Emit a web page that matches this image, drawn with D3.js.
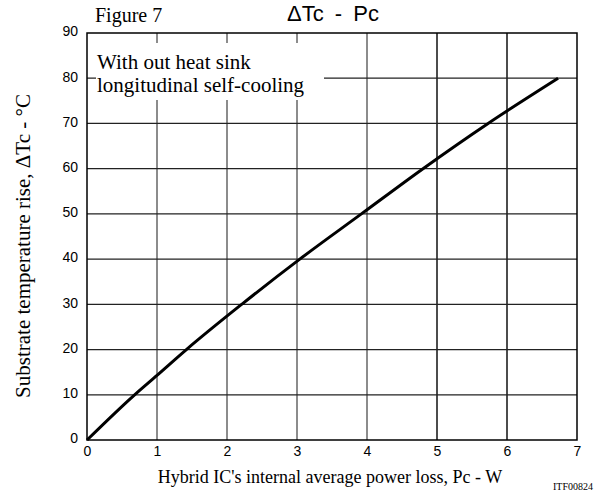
<!DOCTYPE html>
<html>
<head>
<meta charset="utf-8">
<title>dTc - Pc</title>
<script src="https://d3js.org/d3.v7.min.js"></script>
<style>
  body { margin: 0; background: #fff; }
  .tick text { font-family: "Liberation Sans", Arial, sans-serif; font-size: 14px; fill: #000; }
  .serif { font-family: "Liberation Serif", "Times New Roman", serif; }
</style>
</head>
<body>
<div id="chart"></div>
<script>
// curve: power loss (W) vs temperature rise (°C)
var power = [0, 0.68, 1, 1.42, 2.21, 3.04, 3.92, 4.80, 5.73, 6.73];
var tempRise = [0, 10, 14.3, 20, 30, 40, 50, 60, 70, 80];
var xTicks = [0, 1, 2, 3, 4, 5, 6, 7];
var yTicks = [0, 10, 20, 30, 40, 50, 60, 70, 80, 90];

var W = 605, H = 495;
var plotL = 87, plotR = 577, plotT = 33, plotB = 440;

var svg = d3.select('#chart').append('svg')
    .attr('width', W).attr('height', H);

var x = d3.scaleLinear().domain([0, 7]).range([plotL, plotR]);
var y = d3.scaleLinear().domain([0, 90]).range([plotB, plotT]);

// grid
svg.append('g').selectAll('line')
    .data(xTicks.slice(1, -1))
    .enter().append('line')
    .attr('x1', d => x(d)).attr('x2', d => x(d))
    .attr('y1', plotT).attr('y2', plotB)
    .style('stroke', d => d < 5 ? '#666' : '#111')
    .style('stroke-width', 1.5);

svg.append('g').selectAll('line')
    .data(yTicks.slice(1, -1))
    .enter().append('line')
    .attr('x1', plotL).attr('x2', plotR)
    .attr('y1', d => y(d)).attr('y2', d => y(d))
    .style('stroke', '#222')
    .style('stroke-width', 1.2);

// note box covering grid
svg.append('rect')
    .attr('x', 96).attr('y', 43)
    .attr('width', 228).attr('height', 57)
    .attr('fill', '#fff');

svg.append('text').attr('class', 'serif')
    .attr('x', 97).attr('y', 69)
    .style('font-size', '21px')
    .text('With out heat sink');
svg.append('text').attr('class', 'serif')
    .attr('x', 97).attr('y', 92)
    .style('font-size', '21px')
    .text('longitudinal self-cooling');

// frame
svg.append('rect')
    .attr('x', plotL).attr('y', plotT)
    .attr('width', plotR - plotL).attr('height', plotB - plotT)
    .attr('fill', 'none')
    .style('stroke', '#000')
    .style('stroke-width', 1.5);

// axes (labels only)
var xAxis = svg.append('g')
    .attr('transform', 'translate(0,' + plotB + ')')
    .call(d3.axisBottom(x).tickValues(xTicks).tickFormat(d3.format('d')).tickSize(0).tickPadding(6));
xAxis.select('.domain').remove();

var yAxis = svg.append('g')
    .attr('transform', 'translate(' + plotL + ',0)')
    .call(d3.axisLeft(y).tickValues(yTicks).tickFormat(d3.format('d')).tickSize(0).tickPadding(9));
yAxis.select('.domain').remove();
yAxis.selectAll('.tick text').attr('dy', '0.2em');

// curve
var pts = power.map((p, i) => [p, tempRise[i]]);
var line = d3.line()
    .x(d => x(d[0]))
    .y(d => y(d[1]))
    .curve(d3.curveMonotoneX);

svg.append('path')
    .datum(pts)
    .attr('d', line)
    .attr('fill', 'none')
    .style('stroke', '#000')
    .style('stroke-width', 3);

// titles
svg.append('text').attr('class', 'serif')
    .attr('x', 95).attr('y', 22)
    .style('font-size', '20px')
    .text('Figure 7');

svg.append('text')
    .attr('x', 333).attr('y', 21)
    .attr('text-anchor', 'middle')
    .style('font-family', '"Liberation Sans", Arial, sans-serif')
    .style('font-size', '22px')
    .style('word-spacing', '5px')
    .text('\u0394Tc - Pc');

svg.append('text').attr('class', 'serif')
    .attr('x', 330).attr('y', 483)
    .attr('text-anchor', 'middle')
    .style('font-size', '18px')
    .text("Hybrid IC's internal average power loss, Pc - W");

svg.append('text').attr('class', 'serif')
    .attr('transform', 'translate(30,246) rotate(-90)')
    .attr('text-anchor', 'middle')
    .style('font-size', '21px')
    .text('Substrate temperature rise, \u0394Tc - \u00B0C');

svg.append('text').attr('class', 'serif')
    .attr('x', 593).attr('y', 490)
    .attr('text-anchor', 'end')
    .style('font-size', '10px')
    .text('ITF00824');
</script>
</body>
</html>
